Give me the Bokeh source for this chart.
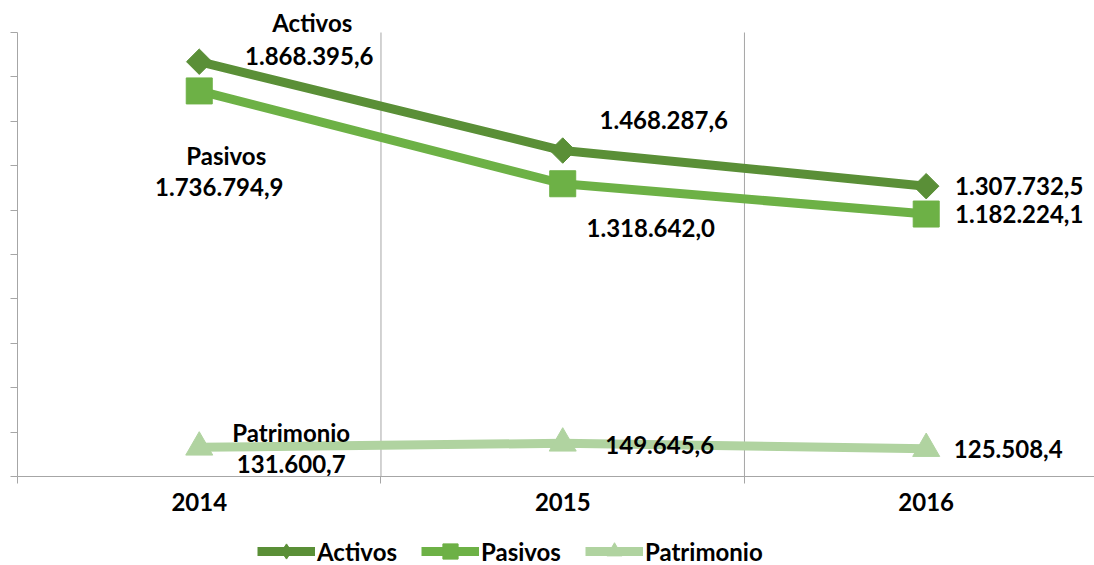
import numpy as np
from bokeh.plotting import figure
from bokeh.layouts import column
from bokeh.models import (ColumnDataSource, FixedTicker, Range1d, Legend, LegendItem)
from bokeh.core.properties import value
from bokeh.embed import file_html
from bokeh.resources import INLINE

years = ["2014", "2015", "2016"]
activos = [1868395.6, 1468287.6, 1307732.5]
pasivos = [1736794.9, 1318642.0, 1182224.1]
patrimonio = [131600.7, 149645.6, 125508.4]
series_names = ["Activos", "Pasivos", "Patrimonio"]
y_ticks = list(range(0, 2000001, 200000))

def fmt(v):
    s = f"{v:,.1f}"
    return s.replace(",", "X").replace(".", ",").replace("X", ".")

FONT = "Lato"
FS = "24px"
colors = ["#5a8f37", "#6db146", "#b0d3a0"]
AX = "#a6a6a6"

xs = [i + 0.5 for i in range(len(years))]
bounds_x = list(range(len(years) + 1))

# frame spans from the window top down to the x axis; the y axis itself stops at the top tick
FRAME_H = 476
AXIS_H = 444
y_top = y_ticks[-1] * FRAME_H / AXIS_H

p = figure(width=1094, height=528, output_backend="svg", toolbar_location=None,
           x_range=Range1d(0, 2.963), y_range=Range1d(0, y_top),
           min_border_left=17, min_border_right=0, min_border_top=0, min_border_bottom=52)
p.outline_line_color = None
p.background_fill_color = "white"
p.border_fill_color = "white"

# axes
p.yaxis.ticker = FixedTicker(ticks=y_ticks)
p.yaxis.bounds = (y_ticks[0], y_ticks[-1])
p.yaxis.major_label_overrides = {t: "" for t in y_ticks}
p.yaxis.major_label_standoff = 0
p.yaxis.major_tick_out = 7
p.yaxis.major_tick_in = 0
p.yaxis.minor_tick_line_color = None
p.yaxis.axis_line_color = AX
p.yaxis.major_tick_line_color = AX

p.xaxis.ticker = FixedTicker(ticks=xs, minor_ticks=bounds_x)
p.xaxis.major_label_overrides = {x: y for x, y in zip(xs, years)}
p.xaxis.major_label_text_font = FONT
p.xaxis.major_label_text_font_style = "bold"
p.xaxis.major_label_text_font_size = FS
p.xaxis.major_label_text_color = "black"
p.xaxis.major_label_standoff = 9
p.xaxis.major_tick_out = 0
p.xaxis.major_tick_in = 0
p.xaxis.minor_tick_out = 7
p.xaxis.minor_tick_in = 0
p.xaxis.minor_tick_line_color = AX
p.xaxis.axis_line_color = AX

p.xgrid.grid_line_color = None
p.ygrid.grid_line_color = None

# vertical category separators (gridlines) up to the top tick
inner = bounds_x[1:-1]
p.segment(x0=inner, x1=inner, y0=[y_ticks[0]] * len(inner), y1=[y_ticks[-1]] * len(inner),
          line_color=AX, line_width=1)

markers = [dict(marker="square", size=18, angle=np.pi / 4),
           dict(marker="square", size=26, angle=0),
           dict(marker="triangle", size=27, angle=0)]
legend_markers = ["diamond", "square", "triangle"]

for name, vals, col, mk in zip(series_names, [activos, pasivos, patrimonio], colors, markers):
    src = ColumnDataSource(dict(x=xs, y=vals))
    p.line("x", "y", source=src, line_color=col, line_width=9)
    p.scatter("x", "y", source=src, marker=mk["marker"], size=mk["size"], angle=mk["angle"],
              fill_color=col, line_color=col)

# data labels (offsets in screen pixels, positive = right / down)
lab_x, lab_y, lab_t, lab_dx, lab_dy = [], [], [], [], []
offsets = {
    "Activos": [(110, -6), (101, -31), (93, 0)],
    "Pasivos": [(20, 96), (88, 44), (93, 0)],
    "Patrimonio": [(92, 17), (97, 2), (82, 0)],
}
for name, vals in zip(series_names, [activos, pasivos, patrimonio]):
    for i, v in enumerate(vals):
        dx, dy = offsets[name][i]
        lab_x.append(xs[i]); lab_y.append(v); lab_t.append(fmt(v))
        lab_dx.append(dx); lab_dy.append(dy)
lsrc = ColumnDataSource(dict(x=lab_x, y=lab_y, t=lab_t, dx=lab_dx, dy=lab_dy))
p.text("x", "y", text="t", source=lsrc, x_offset="dx", y_offset="dy",
       text_font=value(FONT), text_font_style="bold", text_font_size=FS,
       text_color="black", text_align="center", text_baseline="middle")

# series-name labels on first point
name_src = ColumnDataSource(dict(x=[xs[0]] * 3, y=[activos[0], pasivos[0], patrimonio[0]],
                                 t=series_names, dx=[113, 27, 92], dy=[-39, 65, -15]))
p.text("x", "y", text="t", source=name_src, x_offset="dx", y_offset="dy",
       text_font=value(FONT), text_font_style="bold", text_font_size=FS,
       text_color="black", text_align="center", text_baseline="middle")

# legend strip (separate figure below the chart)
lf = figure(width=1094, height=37, output_backend="svg", toolbar_location=None,
            x_range=Range1d(100, 101), y_range=Range1d(0, 1),
            min_border_left=0, min_border_right=0, min_border_top=0, min_border_bottom=0)
lf.axis.visible = False
lf.grid.visible = False
lf.outline_line_color = None
items = []
for name, vals, col, mk in zip(series_names, [activos, pasivos, patrimonio], colors, legend_markers):
    src = ColumnDataSource(dict(x=xs, y=vals))
    l = lf.line("x", "y", source=src, line_color=col, line_width=9)
    s = lf.scatter("x", "y", source=src, marker=mk, size=16,
                   fill_color=col, line_color=col)
    items.append(LegendItem(label=name, renderers=[l, s]))

legend = Legend(items=items, orientation="horizontal", location=(240, -5),
                label_text_font=FONT, label_text_font_style="bold",
                label_text_font_size=FS, label_text_color="black",
                glyph_width=58, glyph_height=38, label_height=36, label_standoff=2, spacing=24,
                padding=0, margin=0, border_line_color=None, background_fill_alpha=0)
lf.add_layout(legend)

layout = column(p, lf, spacing=0)
open("out.html", "w").write(file_html(layout, INLINE))
